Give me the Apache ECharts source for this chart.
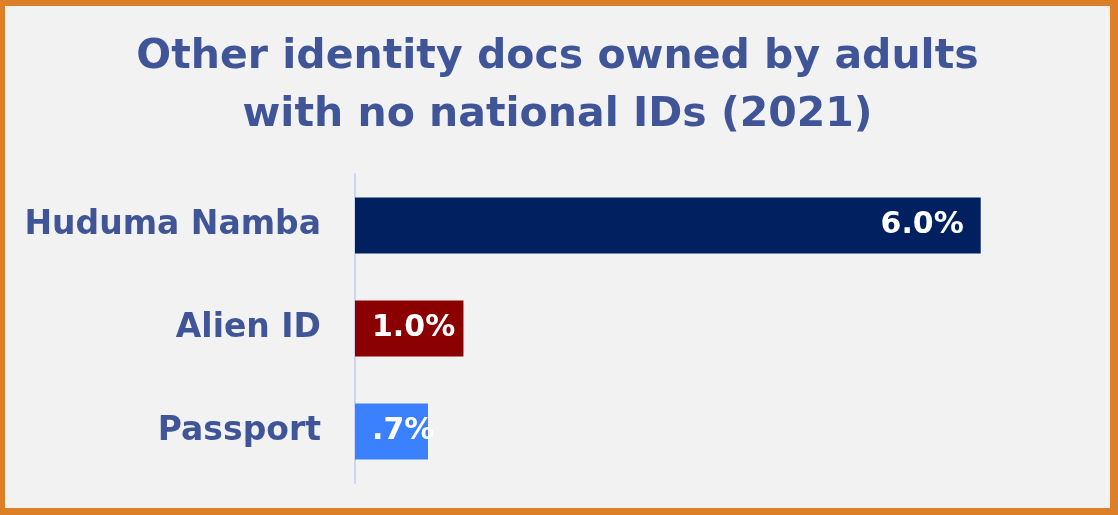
<!DOCTYPE html>
<html>
<head>
<meta charset="utf-8">
<script src="https://cdn.jsdelivr.net/npm/echarts@6/dist/echarts.min.js"></script>
<style>
  html, body { margin: 0; padding: 0; background: #f2f2f2; }
  #frame {
    width: 1118px; height: 515px; box-sizing: border-box;
    border-style: solid; border-color: #dc7f26;
    border-width: 6px 8px 7px 5px;
  }
  #chart { width: 100%; height: 100%; }
</style>
</head>
<body>
<div id="frame"><div id="chart"></div></div>
<script>
// categories from top to bottom
const categories = ['Huduma Namba', 'Alien ID', 'Passport'];
const shares = [6.0, 1.04, 0.7];
const barColors = ['#002060', '#8b0000', '#3a80ff'];

const titleColor = '#3f5597';
const font = 'DejaVu Sans';

const chart = echarts.init(document.getElementById('chart'));

// ".7%" style: drop the leading zero below 1
const fmt = (v) => {
  let s = v.toFixed(1);
  if (v < 1) s = s.replace(/^0/, '');
  return s + '%';
};

chart.setOption({
  backgroundColor: '#f2f2f2',
  title: {
    text: 'Other identity docs owned by adults\nwith no national IDs (2021)',
    left: 'center',
    top: 17,
    textStyle: {
      fontFamily: font,
      fontWeight: 'bold',
      fontSize: 41,
      lineHeight: 58,
      color: titleColor,
    },
  },
  grid: {
    left: 350,
    right: 25,
    top: 168,
    bottom: 25,
  },
  xAxis: {
    type: 'value',
    min: 0,
    max: 7,
    show: false,
  },
  yAxis: {
    type: 'category',
    inverse: true,
    data: categories,
    axisLine: { show: true, lineStyle: { color: '#cdd6ea', width: 2 } },
    axisTick: { show: false },
    axisLabel: {
      margin: 34,
      fontFamily: font,
      fontWeight: 'bold',
      fontSize: 33,
      color: titleColor,
    },
  },
  series: [
    {
      type: 'bar',
      barWidth: 56,
      data: shares.map((v, i) => ({
        value: v,
        itemStyle: { color: barColors[i] },
        label: {
          show: true,
          position: v > 2 ? 'insideRight' : 'insideLeft',
          distance: 17,
          formatter: (p) => fmt(p.value),
          fontFamily: font,
          fontWeight: 'bold',
          fontSize: 30,
          color: '#fff',
        },
      })),
    },
  ],
});
</script>
</body>
</html>
